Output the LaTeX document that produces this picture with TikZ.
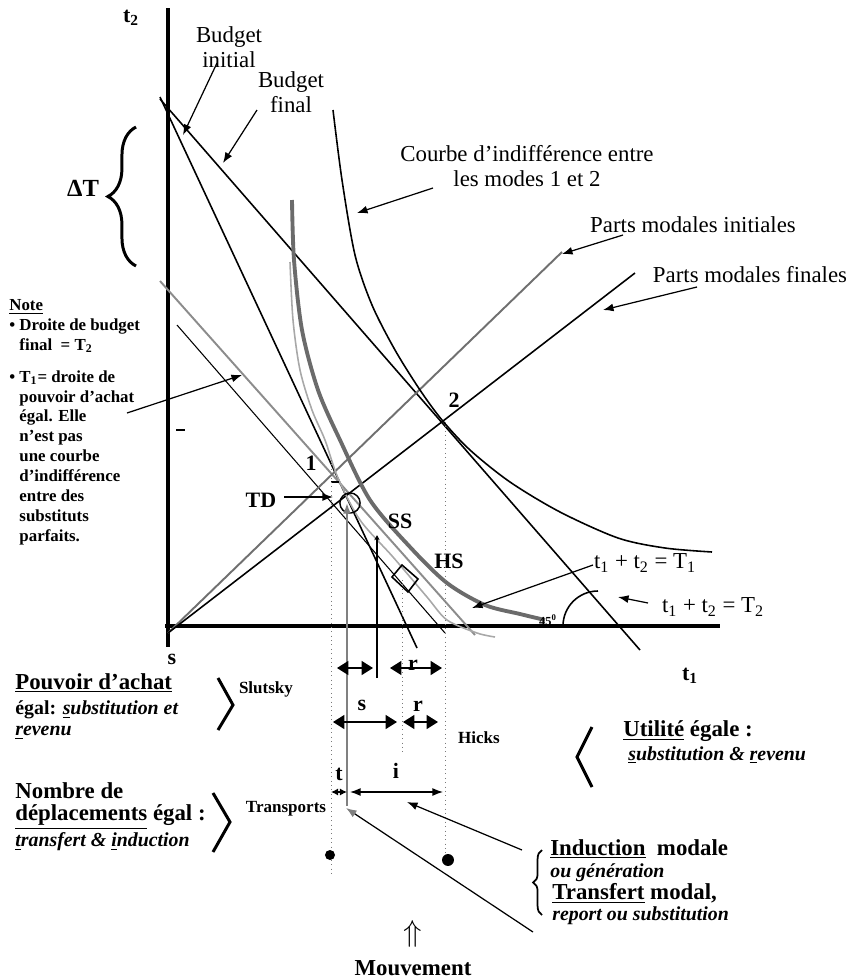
\documentclass[tikz,border=0pt]{standalone}
\usepackage{fontspec}
\setmainfont{Liberation Serif}
\usetikzlibrary{arrows.meta,decorations.pathreplacing}
\definecolor{curvedark}{HTML}{6B6B6B}
\definecolor{curvelight}{HTML}{A8A8A8}
\definecolor{linegray}{HTML}{8C8C8C}
\definecolor{sharegray}{HTML}{707070}
\definecolor{guidegray}{HTML}{7A7A7A}

\begin{document}
\begin{tikzpicture}[x=0.02cm,y=-0.02cm,
    >={Latex[length=6pt,width=4.5pt]},
    every node/.style={inner sep=0pt},
    axis/.style={line width=2.2pt},
    budget/.style={line width=0.9pt},
    guide/.style={guidegray,line width=0.5pt,dotted},
    pointer/.style={->,line width=0.7pt},
    gap/.style={{Triangle[length=6.5pt,width=8pt]}-{Triangle[length=6.5pt,width=8pt]},line width=0.8pt},
    chevron/.style={line width=1.7pt,line join=miter},
    lab/.style={font=\fontsize{13}{14.5}\selectfont,align=center},
    head/.style={font=\bfseries\fontsize{13}{15}\selectfont,anchor=west},
    detail/.style={font=\bfseries\fontsize{11.3}{13}\selectfont,anchor=west},
    tag/.style={font=\bfseries\fontsize{9.7}{11}\selectfont},
    ptlabel/.style={font=\bfseries\fontsize{12.5}{14}\selectfont},
    endpoint/.style={circle,fill=black,inner sep=0pt}
  ]
  \useasboundingbox (0,0) rectangle (853,978);

  % axes
  \coordinate (ytop) at (168,8);
  \coordinate (ybot) at (168,647);
  \coordinate (xleft) at (165,626);
  \coordinate (xright) at (720,626);
  \draw[axis] (ytop) -- (ybot);
  \draw[axis] (xleft) -- (xright);
  \draw[line width=0.8pt] (176,430) -- (185,430);
  \node[ptlabel] (tdeux) at (131,18) {t\textsubscript{2}};
  \node[ptlabel] (tun) at (690,676) {t\textsubscript{1}};
  \node[ptlabel] (orig) at (172,659) {s};

  \node[font=\bfseries\fontsize{14}{16}\selectfont] (dT) at (83,188) {ΔT};
  \draw[decorate,decoration={brace,amplitude=16pt},line width=1.7pt] (136,266) -- (136,127);

  % budget lines and modal shares
  \draw[budget] (160,97) -- (417,648);
  \draw[budget] (160,99) -- (640,650);
  \draw[linegray,line width=1.1pt] (160,281) -- (475,635);
  \draw[line width=0.6pt] (177,325) -- (445,633);
  \draw[sharegray,line width=1.1pt] (168,633) -- (562,252);
  \draw[budget] (168,633) -- (635,273);

  % curves
  \draw[budget] plot[smooth] coordinates {(333,110) (342,180) (355,255) (372,305)
    (395,350) (420,390) (442,420) (470,450) (510,482) (560,512) (618,538) (665,548) (712,552)};
  \draw[curvelight,line width=0.9pt] plot[smooth] coordinates {(290,262) (293,320) (300,370)
    (312,410) (325,440) (338,478) (360,520) (393,557) (427,597) (447,620) (477,633) (495,637)};
  \draw[curvedark,line width=2.2pt] plot[smooth] coordinates {(292,200) (294,260) (302,330)
    (318,390) (340,440) (370,500) (410,547) (447,583) (485,605) (520,614) (545,620)};

  % points
  \node[ptlabel] (pun) at (311,463) {1};
  \node[ptlabel] (pdeux) at (454,400) {2};
  \node[ptlabel] (td) at (261,500) {TD};
  \node[ptlabel] (ss) at (400,521) {SS};
  \node[ptlabel] (hs) at (449,561) {HS};
  \coordinate (tdfrom) at (284,497);
  \coordinate (tdtip) at (333,497);
  \draw[pointer] (tdfrom) -- (tdtip);
  \node[circle,draw,line width=0.8pt,minimum size=11.5pt] (tangun) at (350,503) {};
  \draw[line width=0.9pt] (392,577) -- (402,565) -- (418,579) -- (408,592) -- cycle;
  \draw[line width=0.7pt] (331,482) -- (339,482);

  % verticals
  \draw[guide] (331,460) -- (331,875);
  \draw[guide] (445,422) -- (445,862);
  \draw[guide] (402,580) -- (402,755);
  \draw[->,gray,line width=1pt] (347,806) -- (347,503);
  \draw[-{Stealth[length=3pt,width=3pt]},line width=1.2pt] (377,678) -- (377,535);

  % effects
  \draw[gap] (337,668) -- (373,668);
  \draw[gap] (390,668) -- (442,668);
  \node[ptlabel] (rone) at (413,665) {r};
  \draw[gap] (333,722) -- (397,722);
  \node[ptlabel] (sgap) at (362,705) {s};
  \draw[gap] (403,722) -- (438,722);
  \node[ptlabel] (rtwo) at (418,706) {r};
  \draw[{Latex[length=4pt,width=4pt]}-{Latex[length=4pt,width=4pt]},line width=0.7pt] (331,792) -- (347,792);
  \node[ptlabel] (tgap) at (339,774) {t};
  \draw[<->,line width=0.7pt] (350,792) -- (443,792);
  \node[ptlabel] (igap) at (396,771) {i};
  \node[endpoint,minimum size=5.7pt] (dun) at (330,855) {};
  \node[endpoint,minimum size=6.8pt] (ddeux) at (448,860) {};

  \draw[line width=0.9pt] (563,626) arc[start angle=180,end angle=270,radius=35];
  \node[font=\bfseries\fontsize{7}{8}\selectfont] (angle) at (548,620) {45\textsuperscript{0}};

  % labels on the graph
  \node[lab] (budini) at (229,47) {Budget\\initial};
  \coordinate (budinifrom) at (217,63);
  \coordinate (budinitip) at (183,135);
  \draw[pointer] (budinifrom) -- (budinitip);
  \node[lab] (budfin) at (291,92) {Budget\\final};
  \coordinate (budfinfrom) at (257,110);
  \coordinate (budfintip) at (223,163);
  \draw[pointer] (budfinfrom) -- (budfintip);
  \node[lab] (courbe) at (527,166) {Courbe d'indifférence entre\\les modes 1 et 2};
  \coordinate (courbefrom) at (433,188);
  \coordinate (courbetip) at (357,213);
  \draw[pointer] (courbefrom) -- (courbetip);
  \node[lab] (pmi) at (693,225) {Parts modales initiales};
  \coordinate (pmifrom) at (623,235);
  \coordinate (pmitip) at (562,254);
  \draw[pointer] (pmifrom) -- (pmitip);
  \node[lab] (pmf) at (750,275) {Parts modales finales};
  \coordinate (pmffrom) at (697,287);
  \coordinate (pmftip) at (603,310);
  \draw[pointer] (pmffrom) -- (pmftip);
  \node[lab] (eqa) at (645,563) {t\textsubscript{1} + t\textsubscript{2} = T\textsubscript{1}};
  \coordinate (eqafrom) at (593,565);
  \coordinate (eqatip) at (472,608);
  \draw[pointer] (eqafrom) -- (eqatip);
  \node[lab] (eqb) at (713,607) {t\textsubscript{1} + t\textsubscript{2} = T\textsubscript{2}};
  \coordinate (eqbfrom) at (648,603);
  \coordinate (eqbtip) at (618,597);
  \draw[pointer] (eqbfrom) -- (eqbtip);

  % note
  \node[font=\bfseries\fontsize{9.6}{11.3}\selectfont,align=left,anchor=north west] (note) at (9,299)
    {\underline{Note}\\
     \textbullet\ Droite de budget\\
     \phantom{\textbullet\ }final\ \ = T\textsubscript{2}\\[7pt]
     \textbullet\ T\textsubscript{1}= droite de\\
     \phantom{\textbullet\ }pouvoir d'achat\\
     \phantom{\textbullet\ }égal. Elle\\
     \phantom{\textbullet\ }n'est pas\\
     \phantom{\textbullet\ }une courbe\\
     \phantom{\textbullet\ }d'indifférence\\
     \phantom{\textbullet\ }entre des\\
     \phantom{\textbullet\ }substituts\\
     \phantom{\textbullet\ }parfaits.};
  \coordinate (notefrom) at (127,413);
  \coordinate (notetip) at (242,375);
  \draw[pointer] (notefrom) -- (notetip);

  % bottom texts
  \node[head] (pouvoir) at (15,683) {\underline{Pouvoir d'achat}};
  \node[detail] (egal) at (15,710) {égal: \textit{\underline{s}ubstitution et}};
  \node[detail] (revenu) at (15,733) {\textit{\underline{r}evenu}};
  \draw[chevron] (218,678) -- (233,705) -- (218,730);
  \node[tag] (slutsky) at (266,689) {Slutsky};

  \node[head,align=left,font=\bfseries\fontsize{13}{12.5}\selectfont] (nombre) at (15,806)
    {Nombre de\\\underline{déplacements} égal :};
  \node[detail] (transind) at (15,842) {\textit{\underline{t}ransfert \& \underline{i}nduction}};
  \draw[chevron] (213,793) -- (230,822) -- (213,852);
  \node[tag] (transports) at (286,809) {Transports};

  \node[tag] (hicks) at (479,738) {Hicks};
  \draw[chevron] (592,727) -- (577,757) -- (592,787);
  \node[head] (utilite) at (623,731) {\underline{Utilité} égale :};
  \node[detail] (subrev) at (628,755) {\textit{\underline{s}ubstitution \& \underline{r}evenu}};

  \node[head] (induction) at (550,849) {\underline{Induction}\ \ modale};
  \node[detail] (generation) at (550,873) {\textit{ou génération}};
  \node[head] (transfert) at (552,893) {\underline{Transfert} modal,};
  \node[detail] (report) at (552,916) {\textit{report ou substitution}};
  \draw[decorate,decoration={brace,amplitude=5pt},line width=1pt] (542,915) -- (542,850);
  \coordinate (indfrom) at (522,850);
  \coordinate (indtip) at (407,802);
  \draw[pointer] (indfrom) -- (indtip);
  \coordinate (trfrom) at (533,932);
  \coordinate (trtip) at (346,808);
  \draw[-{Latex[length=6pt,width=4.5pt,color=gray]},line width=0.7pt] (trfrom) -- (trtip);

  \node[font=\fontsize{18}{20}\selectfont] (up) at (413,934) {$\Uparrow$};
  \node[head,anchor=center] (mouvement) at (413,968) {Mouvement};
\end{tikzpicture}
\end{document}
